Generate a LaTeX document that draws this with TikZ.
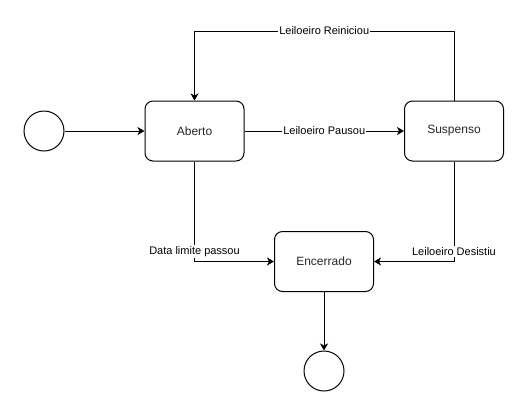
\documentclass[tikz,border=0pt]{standalone}
\usepackage{fontspec}
\setmainfont{Liberation Sans}
\usetikzlibrary{arrows.meta}
\begin{document}
\begin{tikzpicture}[x=1pt,y=-1pt,
  state/.style={draw,line width=1pt,rounded corners=8pt,minimum width=99pt,minimum height=60pt,inner sep=0pt,font=\fontsize{12pt}{14pt}\selectfont,text=black!85},
  circ/.style={draw,line width=1pt,circle,minimum size=40pt,inner sep=0pt},
  arr/.style={line width=1pt,-{Stealth[length=7pt,width=8pt,inset=2pt]}},
  lbl/.style={fill=white,inner sep=1pt,font=\fontsize{11pt}{13pt}\selectfont}]
\useasboundingbox (0,0) rectangle (529,416);
\node[circ] (s) at (44,131) {};
\node[state] (ab) at (194.5,131) {Aberto};
\node[state] (su) at (454,131) {Suspenso};
\node[state] (en) at (324,261.5) {Encerrado};
\node[circ] (e) at (324,371) {};
\coordinate (t1) at (454,31);
\coordinate (t2) at (194.5,31);
\coordinate (c1) at (194.5,261.5);
\coordinate (c2) at (454,261.5);
\draw[arr] (s) -- (ab);
\draw[arr] (ab) -- node[lbl]{Leiloeiro Pausou} (su);
\draw[arr] (su.north) -- (t1) -- node[lbl]{Leiloeiro Reiniciou} (t2) -- (ab.north);
\draw[arr] (ab.south) -- node[lbl,pos=0.9]{Data limite passou} (c1) -- (en.west);
\draw[arr] (su.south) -- node[lbl,pos=0.9]{Leiloeiro Desistiu} (c2) -- (en.east);
\draw[arr] (en) -- (e);
\end{tikzpicture}
\end{document}
